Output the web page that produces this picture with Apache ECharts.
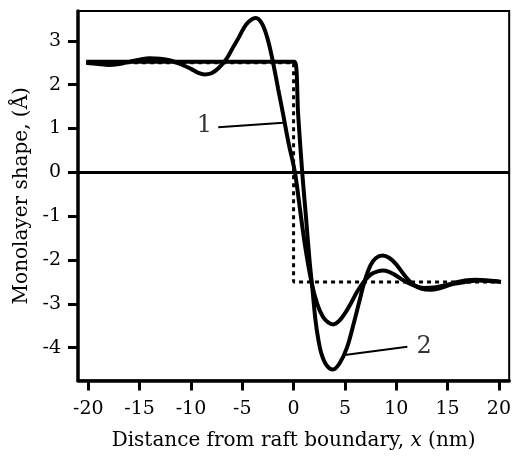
<!DOCTYPE html>
<html>
<head>
<meta charset="utf-8">
<script src="https://cdn.jsdelivr.net/npm/echarts@6/dist/echarts.min.js"></script>
<style>
html,body{margin:0;padding:0;background:#fff;}
#chart{width:514px;height:458px;}
</style>
</head>
<body>
<div id="chart"></div>
<script>
// ---- data ----
const xTicks = [-20, -15, -10, -5, 0, 5, 10, 15, 20];
const yTicks = [-4, -3, -2, -1, 0, 1, 2, 3];

const c1x = [-20.2, -19, -18, -17, -16, -15, -14, -13, -12, -11, -10, -9.3, -8.7, -8, -7.3, -6.5, -5.9, -5.4, -4.9, -4.4, -3.67, -3.1, -2.6, -2.1, -1.5, -1.0, -0.5, 0.13, 0.6, 1.1, 1.74, 2.3, 2.87, 3.4, 3.84, 4.4, 5.0, 5.6, 6.2, 6.9, 7.6, 8.2, 8.67, 9.3, 10, 10.8, 11.7, 12.7, 13.7, 14.7, 15.7, 16.7, 17.7, 18.7, 19.5, 20.2];
const c1y = [2.5, 2.47, 2.45, 2.47, 2.52, 2.57, 2.6, 2.59, 2.55, 2.47, 2.36, 2.27, 2.23, 2.26, 2.38, 2.6, 2.85, 3.05, 3.27, 3.43, 3.52, 3.4, 3.1, 2.62, 1.9, 1.3, 0.68, 0, -0.8, -1.65, -2.5, -3.0, -3.3, -3.43, -3.47, -3.4, -3.22, -2.98, -2.72, -2.48, -2.32, -2.26, -2.24, -2.27, -2.36, -2.48, -2.58, -2.64, -2.63, -2.58, -2.52, -2.47, -2.45, -2.46, -2.48, -2.5];

const c2x = [-20.2, -0.3, 0.13, 0.45, 0.84, 1.2, 1.55, 1.85, 2.13, 2.4, 2.7, 3.2, 3.84, 4.5, 5.2, 5.8, 6.4, 6.9, 7.5, 8.0, 8.67, 9.3, 10, 10.8, 11.6, 12.5, 13.3, 14.3, 15.5, 16.8, 18, 19, 20.2];
const c2y = [2.52, 2.52, 2.52, 1.3, 0, -1.0, -2.0, -2.7, -3.37, -3.8, -4.13, -4.4, -4.5, -4.35, -4.0, -3.5, -2.95, -2.5, -2.12, -1.96, -1.9, -1.95, -2.1, -2.35, -2.55, -2.66, -2.68, -2.64, -2.55, -2.5, -2.47, -2.48, -2.5];

const stepX = [-20.2, 0, 0, 20.2];
const stepY = [2.5, 2.5, -2.5, -2.5];

const labelTexts = ['1', '2'];
const labelX = [-8.7, 12.72];
const labelY = [1.06, -3.97];
const leader1X = [-7.34, -1.0];
const leader1Y = [1.03, 1.13];
const leader2X = [4.97, 11.08];
const leader2Y = [-4.17, -3.98];

const zip = (xs, ys) => xs.map((x, i) => [x, ys[i]]);

const FONT = '"DejaVu Serif", "Liberation Serif", serif';

const chart = echarts.init(document.getElementById('chart'), null, {renderer: 'canvas'});
chart.setOption({
  animation: false,
  backgroundColor: '#fff',
  grid: {left: 78, right: 1.5, top: 11, bottom: 77.5, show: true, borderColor: '#000', borderWidth: 2, backgroundColor: 'transparent'},
  xAxis: {
    type: 'value', min: -21, max: 21,
    name: '{n|Distance from raft boundary, }{i|x}{n| (nm)}',
    nameLocation: 'middle', nameGap: 50,
    nameTextStyle: {rich: {
      n: {fontFamily: FONT, fontSize: 20, color: '#000'},
      i: {fontFamily: FONT, fontSize: 20, color: '#000', fontStyle: 'italic'}
    }},
    axisLine: {show: true, onZero: false, lineStyle: {color: '#000', width: 3.5}},
    axisTick: {show: true, length: 10, lineStyle: {color: '#000', width: 3}, customValues: xTicks},
    axisLabel: {fontFamily: FONT, fontSize: 19, color: '#000', margin: 19, customValues: xTicks},
    splitLine: {show: false}
  },
  yAxis: {
    type: 'value', min: -4.75, max: 3.68,
    name: 'Monolayer shape, (Å)',
    nameLocation: 'middle', nameGap: 46,
    nameTextStyle: {fontFamily: FONT, fontSize: 20, color: '#000'},
    axisLine: {show: true, onZero: false, lineStyle: {color: '#000', width: 3.5}},
    axisTick: {show: true, length: 10, lineStyle: {color: '#000', width: 3}, customValues: yTicks},
    axisLabel: {fontFamily: FONT, fontSize: 19, color: '#000', margin: 17, customValues: yTicks},
    splitLine: {show: false}
  },
  series: [
    {
      type: 'line', data: zip(stepX, stepY), showSymbol: false, symbol: 'none',
      lineStyle: {color: '#000', width: 3, type: [4, 4]},
      markLine: {
        silent: true, symbol: 'none', label: {show: false},
        lineStyle: {color: '#000', width: 3, type: 'solid'},
        data: [{yAxis: 0}]
      }
    },
    {
      type: 'line', data: zip(c1x, c1y), symbol: 'none', smooth: 0.35,
      lineStyle: {color: '#000', width: 4}
    },
    {
      type: 'line', data: zip(c2x, c2y), symbol: 'none', smooth: 0.35,
      lineStyle: {color: '#000', width: 4}
    },
    {
      type: 'line', data: zip(leader1X, leader1Y), symbol: 'none',
      lineStyle: {color: '#000', width: 2}
    },
    {
      type: 'line', data: zip(leader2X, leader2Y), symbol: 'none',
      lineStyle: {color: '#000', width: 2}
    },
    {
      type: 'scatter', symbolSize: 0,
      data: labelTexts.map((t, i) => ({value: [labelX[i], labelY[i]], name: t})),
      label: {show: true, position: 'inside', formatter: p => p.name, fontFamily: FONT, fontSize: 24, color: '#000'}
    }
  ]
});
</script>
</body>
</html>
